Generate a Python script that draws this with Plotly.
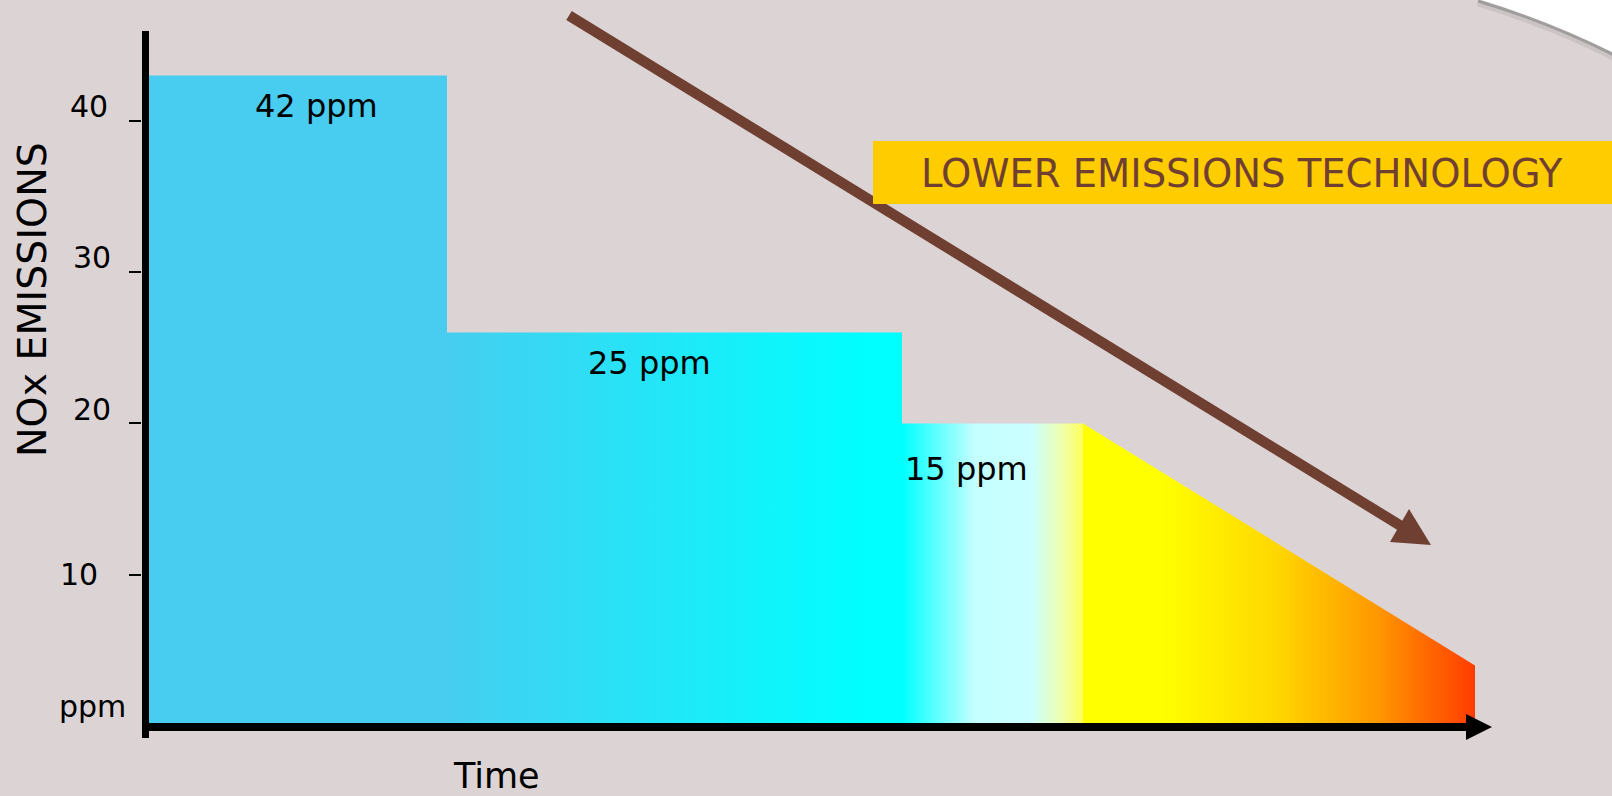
import plotly.graph_objects as go

# ---------------- data ----------------
time_edges = [0.0, 2.98, 7.53, 9.34, 13.26]          # segment boundaries (time units)
level_start = [43, 26, 20, 20]                        # NOx level at segment start
level_end = [43, 26, 20, 4]                           # NOx level at segment end
segment_labels = ["42 ppm", "25 ppm", "15 ppm"]
label_x = [1.67, 5.00, 8.17]
label_y = [41.0, 24.0, 17.0]
y_tick_vals = [10, 20, 30, 40]
y_tick_text = ["10", "20", "30", "40"]
segment_scales = [
    [[0, "rgb(72,204,240)"], [1, "rgb(72,204,240)"]],
    [[0, "rgb(70,205,240)"], [0.92, "rgb(0,255,255)"], [1, "rgb(0,255,255)"]],
    [[0, "#00FFFF"], [0.4, "#C4FFFF"], [0.72, "#CCFFFF"], [0.88, "#EEFFB0"], [1, "#FFFF5A"]],
    [[0, "#FFFF00"], [0.2, "#FFFF00"], [0.5, "#FFD600"], [0.75, "#FF9800"], [1, "#FF3C00"]],
]

# ---------------- geometry helpers ----------------
W, H = 1612, 796
L, R, T, B = 142, 63, 30, 70
PW, PH = W - L - R, H - T - B
BG = "#DCD3D4"
BROWN = "#6F4032"
FONT = "DejaVu Sans"


def xp(px):
    return (px - L) / PW


def yp(py):
    return (H - B - py) / PH


fig = go.Figure()

for i in range(len(level_start)):
    x0, x1 = time_edges[i], time_edges[i + 1]
    fig.add_trace(go.Scatter(
        x=[x0, x0, x1, x1],
        y=[0, level_start[i], level_end[i], 0],
        mode="lines",
        fill="toself",
        line=dict(width=0),
        fillgradient=dict(type="horizontal", colorscale=segment_scales[i],
                          start=x0, stop=x1),
        hoverinfo="skip",
        showlegend=False,
    ))

shapes = []


def curve(dy=0):
    return (f"M {xp(1478)},{yp(-1+dy)} Q {xp(1548)},{yp(20+dy)} {xp(1614)},{yp(53+dy)}")


# white corner with soft shadow
shapes.append(dict(type="path", xref="paper", yref="paper", path=curve(4),
                   line=dict(color="rgba(150,150,150,0.25)", width=7), layer="below"))
shapes.append(dict(type="path", xref="paper", yref="paper", path=curve(2),
                   line=dict(color="rgba(110,110,110,0.45)", width=3), layer="below"))
shapes.append(dict(type="path", xref="paper", yref="paper",
                   path=curve(0) + f" L {xp(1625)},{yp(53)} L {xp(1625)},{yp(-5)} L {xp(1478)},{yp(-5)} Z",
                   fillcolor="white", line=dict(width=0), layer="below"))

# brown trend arrow
shapes.append(dict(type="line", xref="paper", yref="paper",
                   x0=xp(569), y0=yp(15.5), x1=xp(1401), y1=yp(526),
                   line=dict(color=BROWN, width=10.5), layer="above"))
shapes.append(dict(type="path", xref="paper", yref="paper",
                   path=f"M {xp(1431)},{yp(545)} L {xp(1390)},{yp(542)} L {xp(1409)},{yp(509)} Z",
                   fillcolor=BROWN, line=dict(width=0), layer="above"))

# banner
shapes.append(dict(type="rect", xref="paper", yref="paper",
                   x0=xp(873), x1=xp(1615), y0=yp(204), y1=yp(141),
                   fillcolor="#FFCC00", line=dict(width=0), layer="above"))

# axes
shapes.append(dict(type="line", xref="paper", yref="paper",
                   x0=xp(145.5), x1=xp(145.5), y0=yp(31), y1=yp(738),
                   line=dict(color="black", width=7), layer="above"))
shapes.append(dict(type="line", xref="paper", yref="paper",
                   x0=xp(142), x1=xp(1470), y0=yp(727), y1=yp(727),
                   line=dict(color="black", width=8), layer="above"))
shapes.append(dict(type="path", xref="paper", yref="paper",
                   path=f"M {xp(1466)},{yp(714)} L {xp(1492)},{yp(727)} L {xp(1466)},{yp(740)} Z",
                   fillcolor="black", line=dict(width=0), layer="above"))

annotations = []
for t, xv, yv in zip(segment_labels, label_x, label_y):
    annotations.append(dict(x=xv, y=yv, xref="x", yref="y", text=t, showarrow=False,
                            font=dict(family=FONT, size=32, color="black"),
                            xanchor="center", yanchor="middle"))

tick_label_pos = {"40": (88.5, 106), "30": (91.5, 257), "20": (91.5, 409), "10": (79, 574)}
for t in y_tick_text:
    px, py = tick_label_pos[t]
    annotations.append(dict(x=xp(px), y=yp(py), xref="paper", yref="paper", text=t,
                            showarrow=False, font=dict(family=FONT, size=30, color="black"),
                            xanchor="center", yanchor="middle"))
annotations.append(dict(x=xp(92), y=yp(706), xref="paper", yref="paper", text="ppm",
                        showarrow=False, font=dict(family=FONT, size=30, color="black"),
                        xanchor="center", yanchor="middle"))
annotations.append(dict(x=xp(32), y=yp(300), xref="paper", yref="paper", text="NOx EMISSIONS",
                        textangle=-90, showarrow=False,
                        font=dict(family=FONT, size=39.5, color="black"),
                        xanchor="center", yanchor="middle"))
annotations.append(dict(x=xp(496), y=yp(776), xref="paper", yref="paper", text="Time",
                        showarrow=False, font=dict(family=FONT, size=35, color="black"),
                        xanchor="center", yanchor="middle"))
annotations.append(dict(x=xp(1242), y=yp(173), xref="paper", yref="paper",
                        text="LOWER EMISSIONS TECHNOLOGY", showarrow=False,
                        font=dict(family=FONT, size=38.5, color=BROWN),
                        xanchor="center", yanchor="middle"))

fig.update_layout(
    width=W, height=H,
    margin=dict(l=L, r=R, t=T, b=B, pad=0),
    paper_bgcolor=BG, plot_bgcolor="rgba(0,0,0,0)",
    shapes=shapes, annotations=annotations,
    showlegend=False,
    xaxis=dict(range=[-0.07, 14.0], visible=False, fixedrange=True),
    yaxis=dict(range=[0, 46], tickvals=y_tick_vals, ticks="outside", ticklen=12,
               tickwidth=2, tickcolor="black", showticklabels=False, showgrid=False,
               zeroline=False, showline=False, fixedrange=True),
)

fig.write_html(
    "out.html",
    config={"displayModeBar": False},
    post_script="document.body.style.margin='0';document.body.style.padding='0';"
                "document.body.style.overflow='hidden';document.body.style.background='" + BG + "';",
)
